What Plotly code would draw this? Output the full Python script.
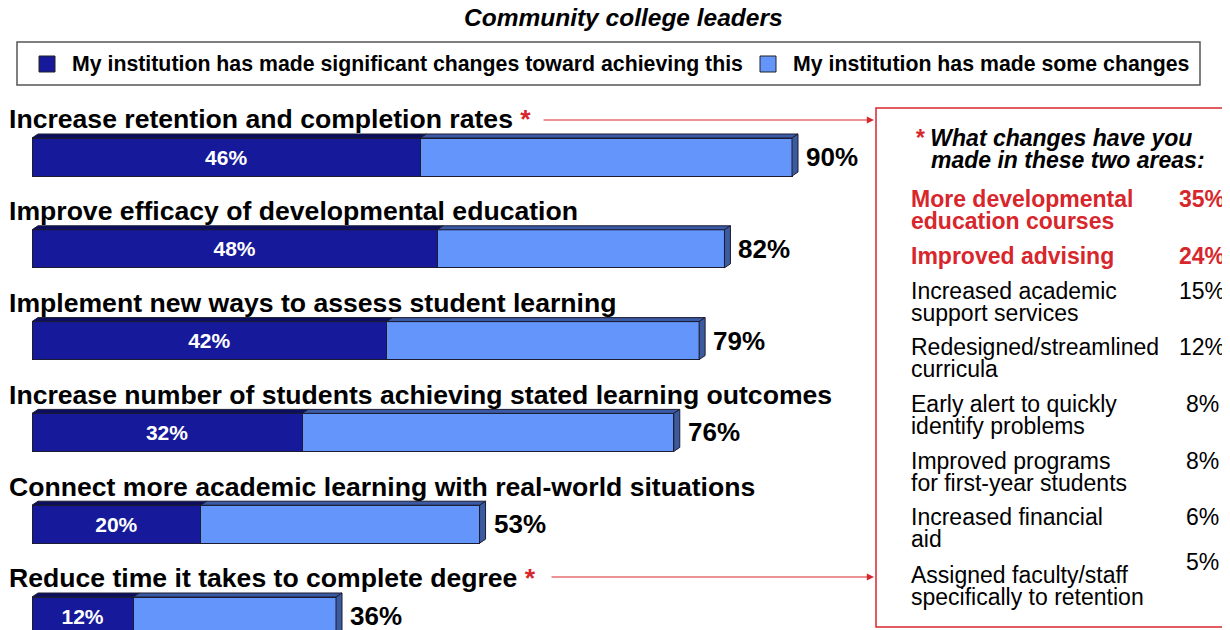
import plotly.graph_objects as go

# ---- data ----
goals = [
    "Increase retention and completion rates",
    "Improve efficacy of developmental education",
    "Implement new ways to assess student learning",
    "Increase number of students achieving stated learning outcomes",
    "Connect more academic learning with real-world situations",
    "Reduce time it takes to complete degree",
]
significant = [46, 48, 42, 32, 20, 12]
total = [90, 82, 79, 76, 53, 36]
starred = [True, False, False, False, False, True]

change_items = [
    ["More developmental", "education courses"],
    ["Improved advising"],
    ["Increased academic", "support services"],
    ["Redesigned/streamlined", "curricula"],
    ["Early alert to quickly", "identify problems"],
    ["Improved programs", "for first-year students"],
    ["Increased financial", "aid"],
    ["Assigned faculty/staff", "specifically to retention"],
]
change_values = [35, 24, 15, 12, 8, 8, 6, 5]
change_highlight = [True, True, False, False, False, False, False, False]

legend_labels = [
    "My institution has made significant changes toward achieving this",
    "My institution has made some changes",
]
title = "Community college leaders"

# ---- style ----
OFF = 8                      # page body margin
W, H = 1230 - OFF, 630 - OFF
DARK = "#16199a"
LIGHT = "#6495fb"
DARK_TOP = "#0c0e60"
LIGHT_TOP = "#3a5aa6"
SIDE = "#3c5a9e"
EDGE = "#1c1c30"
RED = "#d7262c"
FONT = "Liberation Sans, Arial, sans-serif"

# pixel mapping (window px): x=0 -> 32px, 8.444 px per percent; bar i centred at 157 + 91.8*i
PX_PER_X = (792 - 32) / 90
X0 = -(32 - OFF) / PX_PER_X
X1 = X0 + W / PX_PER_X
PX_PER_Y = 91.8
Y_TOP = -(157 - OFF) / PX_PER_Y
Y_BOT = Y_TOP + H / PX_PER_Y
BAR_H = 38 / PX_PER_Y
DX = 6 / PX_PER_X
DY = 4 / PX_PER_Y


def px(x):
    return (x - OFF) / W


def py(y):
    return 1 - (y - OFF) / H


ypos = list(range(len(goals)))
light_part = [t - s for t, s in zip(total, significant)]

fig = go.Figure()
fig.add_trace(go.Bar(
    y=ypos, x=significant, orientation="h", name=legend_labels[0],
    marker=dict(color=DARK, line=dict(color=EDGE, width=1)),
    text=[f"<b>{v}%</b>" for v in significant], textposition="inside",
    insidetextanchor="middle", textangle=0,
    textfont=dict(color="white", size=21, family=FONT),
    width=BAR_H,
))
fig.add_trace(go.Bar(
    y=ypos, x=light_part, orientation="h", name=legend_labels[1],
    marker=dict(color=LIGHT, line=dict(color=EDGE, width=1)),
    width=BAR_H, hoverinfo="skip",
))

shapes = []
annotations = []

# 3D faces, goal labels, totals
for i, (g, s, t) in enumerate(zip(goals, significant, total)):
    yt = i - BAR_H / 2
    yb = i + BAR_H / 2
    shapes.append(dict(
        type="path", xref="x", yref="y", layer="above",
        path=f"M0,{yt} L{s},{yt} L{s + DX},{yt - DY} L{DX},{yt - DY} Z",
        fillcolor=DARK_TOP, line=dict(color=EDGE, width=1)))
    shapes.append(dict(
        type="path", xref="x", yref="y", layer="above",
        path=f"M{s},{yt} L{t},{yt} L{t + DX},{yt - DY} L{s + DX},{yt - DY} Z",
        fillcolor=LIGHT_TOP, line=dict(color=EDGE, width=1)))
    shapes.append(dict(
        type="path", xref="x", yref="y", layer="above",
        path=f"M{t},{yt} L{t + DX},{yt - DY} L{t + DX},{yb - DY} L{t},{yb} Z",
        fillcolor=SIDE, line=dict(color=EDGE, width=1)))

    label = f"<b>{g}</b>"
    if starred[i]:
        label += f" <b><span style='color:{RED}'>*</span></b>"
    annotations.append(dict(
        x=px(7), xref="paper", y=i - 0.41, yref="y",
        xanchor="left", yanchor="middle", showarrow=False,
        text=label, font=dict(size=26.6, color="black", family=FONT)))
    annotations.append(dict(
        x=t, xref="x", y=i, yref="y", xshift=12,
        xanchor="left", yanchor="middle", showarrow=False,
        text=f"<b>{t}%</b>", font=dict(size=26, color="black", family=FONT)))

# arrows from starred goals to the side box
for y0, x0 in [(120, 542), (577, 550)]:
    annotations.append(dict(
        x=px(874), y=py(y0), xref="paper", yref="paper",
        ax=-(874 - x0), ay=0,
        text="", showarrow=True, arrowhead=2, arrowsize=1.2,
        arrowwidth=1.2, arrowcolor=RED))

# title
annotations.append(dict(
    x=px(623), y=py(18), xref="paper", yref="paper", showarrow=False,
    xanchor="center", yanchor="middle",
    text=f"<b><i>{title}</i></b>", font=dict(size=24.5, color="black", family=FONT)))

# legend box
shapes.append(dict(type="rect", xref="paper", yref="paper",
                   x0=px(17), x1=px(1200), y0=py(42), y1=py(85),
                   line=dict(color="#555555", width=1.5), fillcolor="white",
                   layer="below"))
for lx, tx, col, lab in [(39, 70, DARK, legend_labels[0]),
                         (760, 791, LIGHT, legend_labels[1])]:
    shapes.append(dict(type="rect", xref="paper", yref="paper",
                       x0=px(lx), x1=px(lx + 16), y0=py(56), y1=py(72),
                       fillcolor=col, line=dict(color="#222", width=1)))
    annotations.append(dict(
        x=px(tx), y=py(64), xref="paper", yref="paper", showarrow=False,
        xanchor="left", yanchor="middle",
        text=f"<b>{lab}</b>", font=dict(size=21.3, color="black", family=FONT)))

# side box
shapes.append(dict(type="rect", xref="paper", yref="paper",
                   x0=px(876), x1=px(1240), y0=py(108), y1=py(627),
                   line=dict(color=RED, width=1.5)))
annotations.append(dict(
    x=px(913), y=py(138), xref="paper", yref="paper", showarrow=False,
    xanchor="left", yanchor="middle",
    text=f"<b><i><span style='color:{RED}'>*</span> What changes have you</i></b>",
    font=dict(size=23, color="black", family=FONT)))
annotations.append(dict(
    x=px(929), y=py(160), xref="paper", yref="paper", showarrow=False,
    xanchor="left", yanchor="middle",
    text="<b><i>made in these two areas:</i></b>",
    font=dict(size=23, color="black", family=FONT)))

row_y = [199, 256, 291, 347, 404, 461, 517, 575]
value_y = [199, 256, 291, 347, 404, 461, 517, 562]
for k, (lines, val, hl) in enumerate(zip(change_items, change_values, change_highlight)):
    col = RED if hl else "black"
    for j, line in enumerate(lines):
        annotations.append(dict(
            x=px(909), y=py(row_y[k] + 22 * j), xref="paper", yref="paper",
            showarrow=False, xanchor="left", yanchor="middle",
            text=f"<b>{line}</b>" if hl else line,
            font=dict(size=23, color=col, family=FONT)))
    annotations.append(dict(
        x=px(1202), y=py(value_y[k]), xref="paper", yref="paper",
        showarrow=False, xanchor="center", yanchor="middle",
        text=f"<b>{val}%</b>" if hl else f"{val}%",
        font=dict(size=23, color=col, family=FONT)))

fig.update_layout(
    width=W, height=H, barmode="stack", showlegend=False,
    margin=dict(l=0, r=0, t=0, b=0),
    paper_bgcolor="white", plot_bgcolor="white",
    xaxis=dict(range=[X0, X1], visible=False, fixedrange=True),
    yaxis=dict(range=[Y_BOT, Y_TOP], visible=False, fixedrange=True),
    shapes=shapes, annotations=annotations,
    font=dict(family=FONT),
)

fig.write_html("out.html")
